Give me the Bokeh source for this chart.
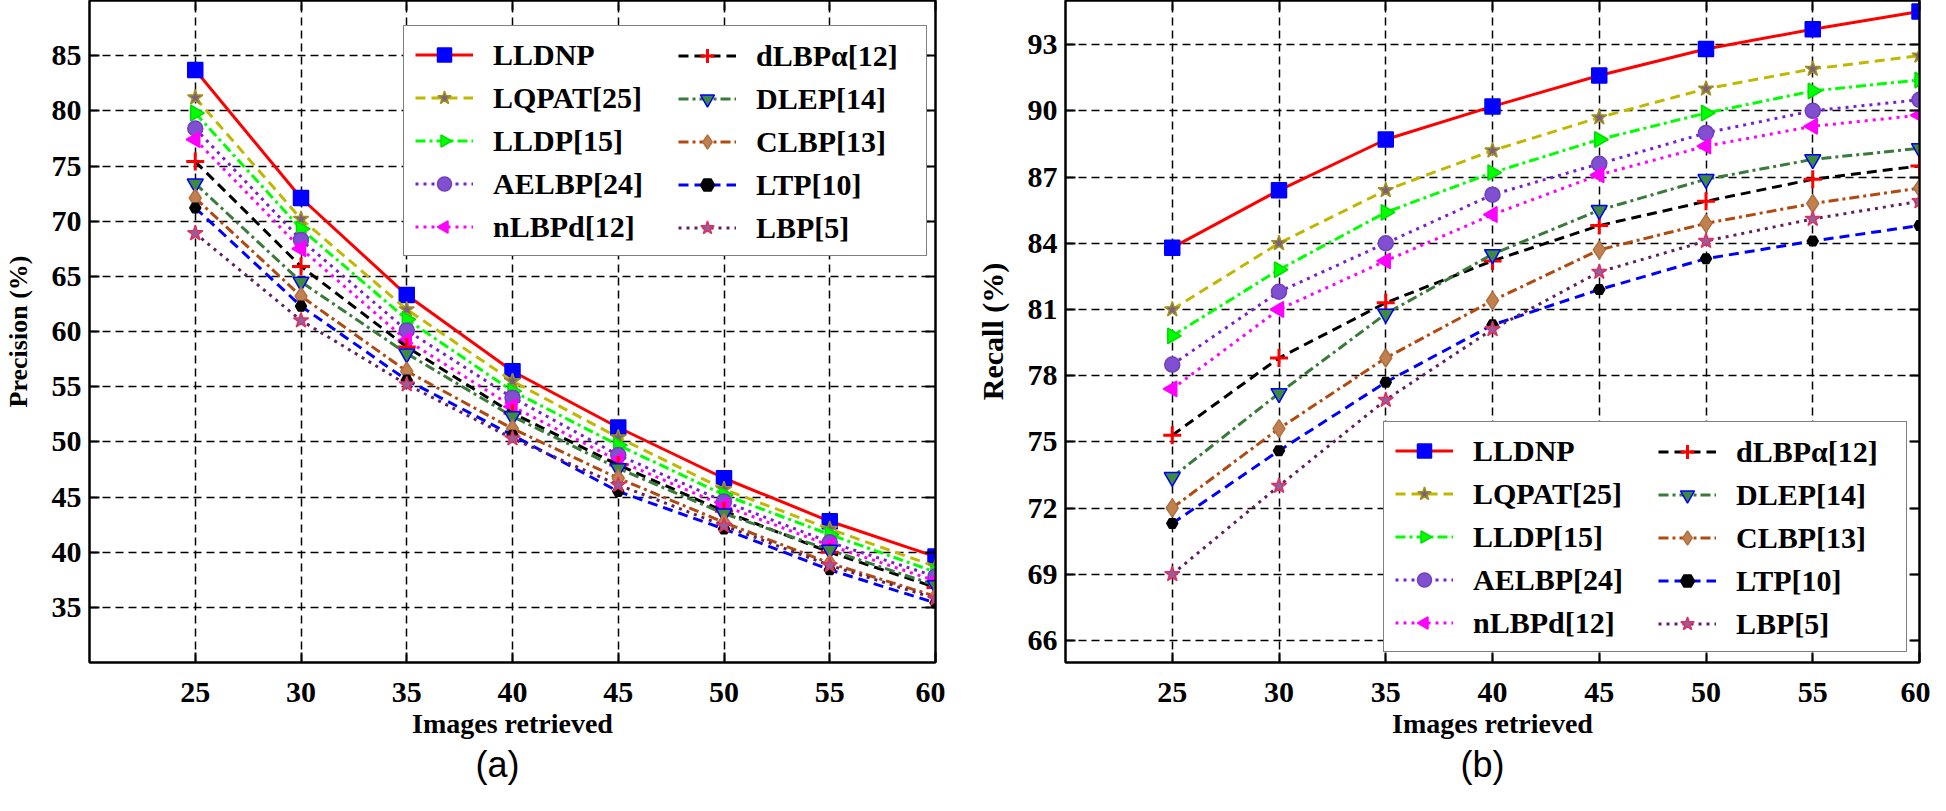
import math
from bokeh.plotting import figure
from bokeh.models import FixedTicker, LinearAxis, Legend, LegendItem, Range1d, Title, ColumnDataSource
from bokeh.layouts import row
from bokeh.embed import file_html
from bokeh.resources import INLINE

# ---------------- data ----------------
images_retrieved = [25, 30, 35, 40, 45, 50, 55, 60]
x_ticks = [25, 30, 35, 40, 45, 50, 55, 60]
precision_ticks = [35, 40, 45, 50, 55, 60, 65, 70, 75, 80, 85]
recall_ticks = [66, 69, 72, 75, 78, 81, 84, 87, 90, 93]

methods = ["LLDNP", "LQPAT[25]", "LLDP[15]", "AELBP[24]", "nLBPd[12]",
           "dLBPα[12]", "DLEP[14]", "CLBP[13]", "LTP[10]", "LBP[5]"]

precision_lldnp = [83.7, 72.1, 63.3, 56.4, 51.3, 46.7, 42.8, 39.6]
precision_lqpat = [81.2, 70.2, 62.0, 55.5, 50.4, 45.7, 42.1, 38.7]
precision_lldp = [79.8, 69.3, 61.1, 54.6, 49.7, 45.2, 41.6, 38.2]
precision_aelbp = [78.4, 68.3, 60.1, 54.0, 48.8, 44.6, 40.9, 37.8]
precision_nlbpd = [77.4, 67.5, 59.2, 53.2, 48.3, 44.2, 40.6, 37.4]
precision_dlbpa = [75.4, 65.9, 58.6, 52.6, 47.9, 43.7, 40.0, 36.8]
precision_dlep = [73.4, 64.5, 58.0, 52.3, 47.6, 43.5, 40.2, 37.0]
precision_clbp = [72.1, 63.2, 56.4, 51.2, 46.7, 42.7, 39.0, 36.0]
precision_ltp = [71.2, 62.3, 55.6, 50.6, 45.5, 42.1, 38.4, 35.4]
precision_lbp = [68.9, 61.0, 55.2, 50.3, 46.1, 42.4, 38.8, 35.8]

recall_lldnp = [83.8, 86.4, 88.7, 90.2, 91.6, 92.8, 93.7, 94.5]
recall_lqpat = [81.0, 84.0, 86.4, 88.2, 89.7, 91.0, 91.9, 92.5]
recall_lldp = [79.8, 82.8, 85.4, 87.2, 88.7, 89.9, 90.9, 91.4]
recall_aelbp = [78.5, 81.8, 84.0, 86.2, 87.6, 89.0, 90.0, 90.5]
recall_nlbpd = [77.4, 81.0, 83.2, 85.3, 87.1, 88.4, 89.3, 89.8]
recall_dlbpa = [75.3, 78.8, 81.3, 83.2, 84.8, 85.9, 86.9, 87.5]
recall_dlep = [73.4, 77.2, 80.8, 83.5, 85.5, 86.9, 87.8, 88.3]
recall_clbp = [72.0, 75.6, 78.8, 81.4, 83.7, 84.9, 85.8, 86.5]
recall_ltp = [71.3, 74.6, 77.7, 80.3, 81.9, 83.3, 84.1, 84.8]
recall_lbp = [69.0, 73.0, 76.9, 80.1, 82.7, 84.1, 85.1, 85.9]

precision_series = [precision_lldnp, precision_lqpat, precision_lldp, precision_aelbp, precision_nlbpd,
                    precision_dlbpa, precision_dlep, precision_clbp, precision_ltp, precision_lbp]
recall_series = [recall_lldnp, recall_lqpat, recall_lldp, recall_aelbp, recall_nlbpd,
                 recall_dlbpa, recall_dlep, recall_clbp, recall_ltp, recall_lbp]

# ---------------- styles ----------------
# 'ngon' = rotation (degrees) of a triangle drawn as an n-gon (0 = tip up)
styles = [
    dict(color="#ff0000", dash="solid", marker="square", mfill="#0000ff", mline="#0000ff", size=15, ngon=None),
    dict(color="#c0b800", dash="10 6", marker="star", mfill="#7a5f80", mline="#a09020", size=16, ngon=None),
    dict(color="#00ff00", dash="10 4 3 4", marker="triangle", mfill="#00ff00", mline="#00dd00", size=15, ngon=-90),
    dict(color="#7a1fd0", dash="3 5", marker="circle", mfill="#8050d0", mline="#7040c0", size=15, ngon=None),
    dict(color="#ff00ff", dash="3 5", marker="triangle", mfill="#ff00ff", mline="#ff00ff", size=15, ngon=90),
    dict(color="#000000", dash="10 6", marker="cross", mfill="#ff0000", mline="#ff0000", size=18, ngon=None),
    dict(color="#3a7a3a", dash="10 4 3 4", marker="inverted_triangle", mfill="#3d8b3d", mline="#0000ff", size=16, ngon=None),
    dict(color="#b04a10", dash="10 4 3 4", marker="diamond", mfill="#c08050", mline="#b07040", size=18, ngon=None),
    dict(color="#0000ff", dash="10 6", marker="hex", mfill="#000000", mline="#000000", size=11, ngon=None),
    dict(color="#602060", dash="3 5", marker="star", mfill="#9060a0", mline="#e03060", size=16, ngon=None),
]

SERIF = "Liberation Serif"


def style_axis(ax, labels=True, label_size="26px"):
    ax.axis_line_color = "black"
    ax.axis_line_width = 2
    ax.major_tick_line_color = "black"
    ax.major_tick_line_width = 2
    ax.major_tick_in = 10
    ax.major_tick_out = 0
    ax.minor_tick_line_color = None
    if labels:
        ax.major_label_text_font = SERIF
        ax.major_label_text_font_style = "bold"
        ax.major_label_text_font_size = "30px"
        ax.major_label_text_color = "black"
        ax.axis_label_text_font = SERIF
        ax.axis_label_text_font_style = "bold"
        ax.axis_label_text_font_size = label_size
        ax.axis_label_text_color = "black"


def legend_common(**kw):
    base = dict(nrows=5, orientation="vertical",
                label_text_font=SERIF, label_text_font_style="bold", label_text_font_size="30px",
                label_text_color="black",
                glyph_width=58, glyph_height=35, label_height=35,
                label_standoff=20, spacing=8, padding=11, margin=0)
    base.update(kw)
    return Legend(**base)


def make_panel(series, y_start, y_end, y_ticks, y_label, y_label_size, letter, letter_offset,
               width, border_left, border_right, legend_x, legend_y):
    p = figure(width=width, height=795,
               x_range=Range1d(20, 60), y_range=Range1d(y_start, y_end),
               output_backend="svg", toolbar_location=None,
               min_border_left=border_left, min_border_right=border_right,
               min_border_top=0, min_border_bottom=133,
               background_fill_color="white", border_fill_color="white")
    p.outline_line_color = "black"
    p.outline_line_width = 2

    p.xaxis.ticker = FixedTicker(ticks=x_ticks)
    p.yaxis.ticker = FixedTicker(ticks=y_ticks)
    p.xaxis.axis_label = "Images retrieved"
    p.yaxis.axis_label = y_label
    style_axis(p.xaxis[0], label_size="28px")
    style_axis(p.yaxis[0], label_size=y_label_size)
    p.xaxis.major_label_standoff = 20
    p.xaxis.axis_label_standoff = 3
    p.yaxis.major_label_standoff = 8
    p.yaxis.axis_label_standoff = 16

    top = LinearAxis(ticker=FixedTicker(ticks=x_ticks),
                     major_label_overrides={t: "" for t in x_ticks},
                     major_label_standoff=0, major_label_text_font_size="1px")
    right = LinearAxis(ticker=FixedTicker(ticks=y_ticks),
                       major_label_overrides={t: "" for t in y_ticks},
                       major_label_standoff=0, major_label_text_font_size="1px")
    style_axis(top, labels=False)
    style_axis(right, labels=False)
    p.add_layout(top, "above")
    p.add_layout(right, "right")

    for g in (p.xgrid, p.ygrid):
        g.grid_line_color = "black"
        g.grid_line_dash = "8 5"
        g.grid_line_width = 1.5

    items = []
    for name, ys, st in zip(methods, series, styles):
        src = ColumnDataSource(dict(x=images_retrieved, y=ys))
        lr = p.line("x", "y", source=src, line_color=st["color"], line_width=3, line_dash=st["dash"])
        if st["ngon"] is not None and hasattr(p, "ngon"):
            sr = p.ngon("x", "y", source=src, radius=9, radius_units="screen", n=3,
                        angle=st["ngon"], angle_units="deg",
                        fill_color=st["mfill"], line_color=st["mline"], line_width=1.5)
        else:
            sr = p.scatter("x", "y", source=src, marker=st["marker"], size=st["size"],
                           fill_color=st["mfill"], line_color=st["mline"],
                           line_width=3 if st["marker"] == "cross" else 1.5)
        items.append(LegendItem(label=name, renderers=[lr, sr]))

    # left column carries the frame of the whole legend box
    leg1 = legend_common(items=items[:5], location=(legend_x, legend_y), label_width=422,
                         border_line_color="black", border_line_width=1.5,
                         background_fill_color="white", background_fill_alpha=1.0)
    leg2 = legend_common(items=items[5:], location=(legend_x + 275, legend_y + 11), label_width=153,
                         border_line_color=None, background_fill_alpha=0.0)
    p.add_layout(leg1)
    p.add_layout(leg2)

    p.add_layout(Title(text=letter, align="left", offset=letter_offset, standoff=0,
                       text_font="Liberation Sans",
                       text_font_size="36px", text_font_style="normal", text_color="black"), "below")
    return p


pa = make_panel(precision_series, 30, 90, precision_ticks, "Precision (%)", "26px", "(a)", 386,
                945, 80, 10, 314, 406)
pb = make_panel(recall_series, 65, 95, recall_ticks, "Recall (%)", "30px", "(b)", 395,
                985, 120, 11, 318, 10)

layout = row(pa, pb)
open("out.html", "w").write(file_html(layout, INLINE))
